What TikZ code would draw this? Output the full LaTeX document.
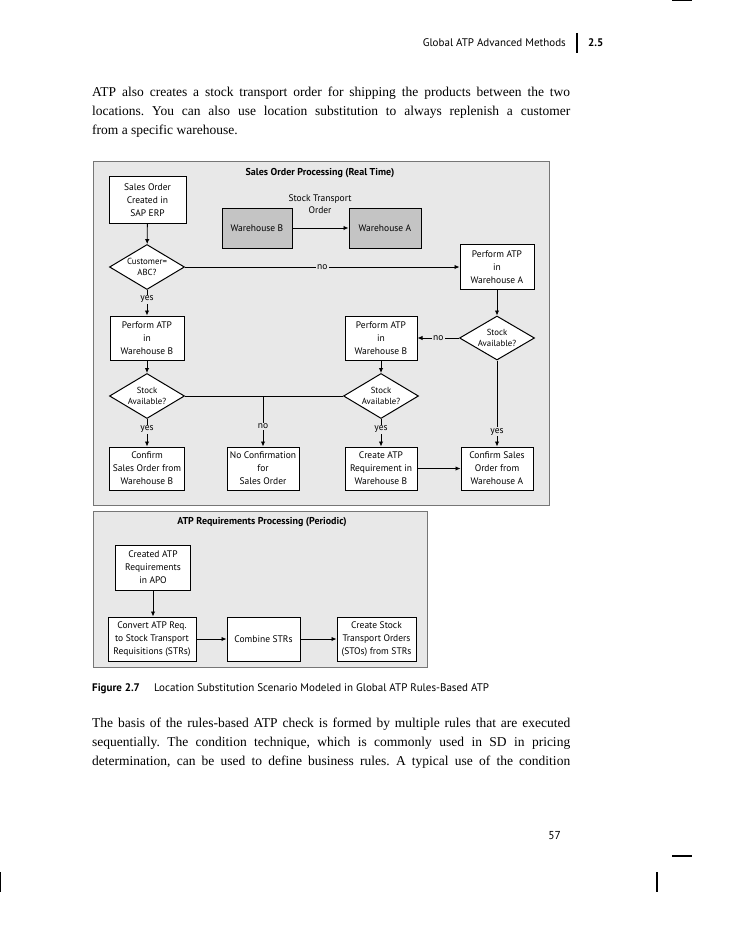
\documentclass[tikz,border=0pt]{standalone}
\usepackage{fontspec}
\setmainfont{Liberation Serif}
\newfontfamily\dsans{PT Sans}
\usetikzlibrary{arrows.meta,shapes.geometric}
\definecolor{panelgray}{HTML}{E8E8E8}
\definecolor{panelborder}{HTML}{767676}
\definecolor{whgray}{HTML}{C4C4C4}
\frenchspacing
\begin{document}
\begin{tikzpicture}[x=1pt,y=-1pt,
  box/.style={draw=black,line width=1pt,fill=white,inner sep=0pt,align=center,
    font=\dsans\fontsize{9.5}{13}\selectfont},
  whbox/.style={box,fill=whgray},
  dia/.style={draw=black,line width=1pt,fill=white,diamond,inner sep=0pt},
  dtext/.style={align=center,inner sep=0pt,font=\dsans\fontsize{8.8}{11.5}\selectfont},
  lab/.style={fill=panelgray,inner sep=1.2pt,font=\dsans\fontsize{9.5}{11}\selectfont},
  arr/.style={line width=0.9pt,-{Latex[length=5pt,width=4.5pt]}},
  ln/.style={line width=0.9pt},
  panel/.style={fill=panelgray,draw=panelborder,line width=1pt},
  ptitle/.style={font=\dsans\bfseries\fontsize{10}{12}\selectfont},
  body/.style={anchor=base west,inner sep=0pt,font=\fontsize{13.5}{15}\selectfont},
  crop/.style={line width=1.2pt}
]
\useasboundingbox (0,0) rectangle (728,928);

% crop marks
\draw[crop] (672,0.6) -- (692,0.6);
\draw[crop] (0.8,872) -- (0.8,892);
\draw[crop] (672,856) -- (692,856);
\draw[crop] (657,872) -- (657,892);

% header
\node[anchor=base east,inner sep=0pt,font=\dsans\fontsize{11}{13}\selectfont] (hdr) at (566,47) {Global ATP Advanced Methods};
\draw[line width=1.1pt] (577,33) -- (577,53);
\node[anchor=base west,inner sep=0pt,font=\dsans\bfseries\fontsize{11}{13}\selectfont] (sec) at (588,47) {2.5};

% top paragraph
\node[body] (p1) at (92,97) {\makebox[478pt][s]{ATP also creates a stock transport order for shipping the products between the two}};
\node[body] (p2) at (92,116) {\makebox[478pt][s]{locations. You can also use location substitution to always replenish a customer}};
\node[body] (p3) at (92,135) {from a specific warehouse.};

% panel 1
\draw[panel] (93,162) rectangle (549,505);
\node[ptitle] (t1) at (320,173) {Sales Order Processing (Real Time)};

\node[box,minimum width=77,minimum height=46] (soc) at (147.5,200) {Sales Order\\Created in\\SAP ERP};
\node[whbox,minimum width=70,minimum height=40] (whB) at (257,228) {Warehouse B};
\node[whbox,minimum width=72,minimum height=40] (whA) at (385,228) {Warehouse A};
\node[dtext,font=\dsans\fontsize{9.5}{12}\selectfont] (sto) at (320,204) {Stock Transport\\Order};
\draw[arr] (whB) -- (whA);

\node[dia,minimum width=75,minimum height=45,label={[dtext]center:Customer=\\ABC?}] (cust) at (147,267) {};
\node[box,minimum width=74,minimum height=45] (pA) at (497,267) {Perform ATP\\in\\Warehouse A};
\node[box,minimum width=74,minimum height=44] (pB1) at (147,338) {Perform ATP\\in\\Warehouse B};
\node[box,minimum width=72,minimum height=44] (pB2) at (381,338) {Perform ATP\\in\\Warehouse B};
\node[dia,minimum width=75,minimum height=44,label={[dtext]center:Stock\\Available?}] (sa1) at (497,338) {};
\node[dia,minimum width=75,minimum height=45,label={[dtext]center:Stock\\Available?}] (sa2) at (147,396) {};
\node[dia,minimum width=75,minimum height=45,label={[dtext]center:Stock\\Available?}] (sa3) at (381,396) {};
\node[box,minimum width=75,minimum height=43] (cB) at (147,468.5) {Confirm\\Sales Order from\\Warehouse B};
\node[box,minimum width=72,minimum height=43] (nc) at (263,468.5) {No Confirmation\\for\\Sales Order};
\node[box,minimum width=72,minimum height=43] (ca) at (381,468.5) {Create ATP\\Requirement in\\Warehouse B};
\node[box,minimum width=72,minimum height=43] (cA) at (497,468.5) {Confirm Sales\\Order from\\Warehouse A};

\draw[arr] (soc) -- (cust);
\draw[arr] (cust.east) -- node[lab,pos=0.5]{no} (pA.west);
\draw[arr] (cust.south) -- node[lab,pos=0.36]{yes} (pB1.north);
\draw[arr] (pA) -- (sa1);
\draw[arr] (sa1.west) -- node[lab]{no} (pB2.east);
\draw[arr] (pB1) -- (sa2);
\draw[arr] (pB2) -- (sa3);
\draw[ln] (sa2.east) -- (sa3.west);
\draw[arr] (nc.north |- sa2.east) -- node[lab,pos=0.6]{no} (nc.north);
\draw[arr] (sa2.south) -- node[lab,pos=0.38]{yes} (cB.north);
\draw[arr] (sa3.south) -- node[lab,pos=0.38]{yes} (ca.north);
\draw[arr] (sa1.south) -- node[lab,pos=0.83]{yes} (cA.north);
\draw[arr] (ca) -- (cA);

% panel 2
\draw[panel] (93,511) rectangle (427,667);
\node[ptitle] (t2) at (262,522) {ATP Requirements Processing (Periodic)};
\node[box,minimum width=75,minimum height=45] (cr) at (153,567.5) {Created ATP\\Requirements\\in APO};
\node[box,minimum width=88,minimum height=44] (cv) at (152,639) {Convert ATP Req.\\to Stock Transport\\Requisitions (STRs)};
\node[box,minimum width=73,minimum height=44] (cb) at (263.5,639) {Combine STRs};
\node[box,minimum width=79,minimum height=44] (cs) at (376.5,639) {Create Stock\\Transport Orders\\(STOs) from STRs};
\draw[arr] (cr.south) -- (cr.south |- cv.north);
\draw[arr] (cv) -- (cb);
\draw[arr] (cb) -- (cs);

% caption
\node[anchor=base west,inner sep=0pt,font=\dsans\bfseries\fontsize{11}{13}\selectfont] (fig) at (92,691) {Figure 2.7};
\node[anchor=base west,inner sep=0pt,font=\dsans\fontsize{11}{13}\selectfont] (cap) at (154,691) {Location Substitution Scenario Modeled in Global ATP Rules-Based ATP};

% bottom paragraph
\node[body] (q1) at (92,727) {\makebox[478pt][s]{The basis of the rules-based ATP check is formed by multiple rules that are executed}};
\node[body] (q2) at (92,746) {\makebox[478pt][s]{sequentially. The condition technique, which is commonly used in SD in pricing}};
\node[body] (q3) at (92,765) {\makebox[478pt][s]{determination, can be used to define business rules. A typical use of the condition}};

% page number
\node[anchor=base east,inner sep=0pt,font=\dsans\fontsize{11.5}{13}\selectfont] (pg) at (561,839) {57};
\end{tikzpicture}
\end{document}
